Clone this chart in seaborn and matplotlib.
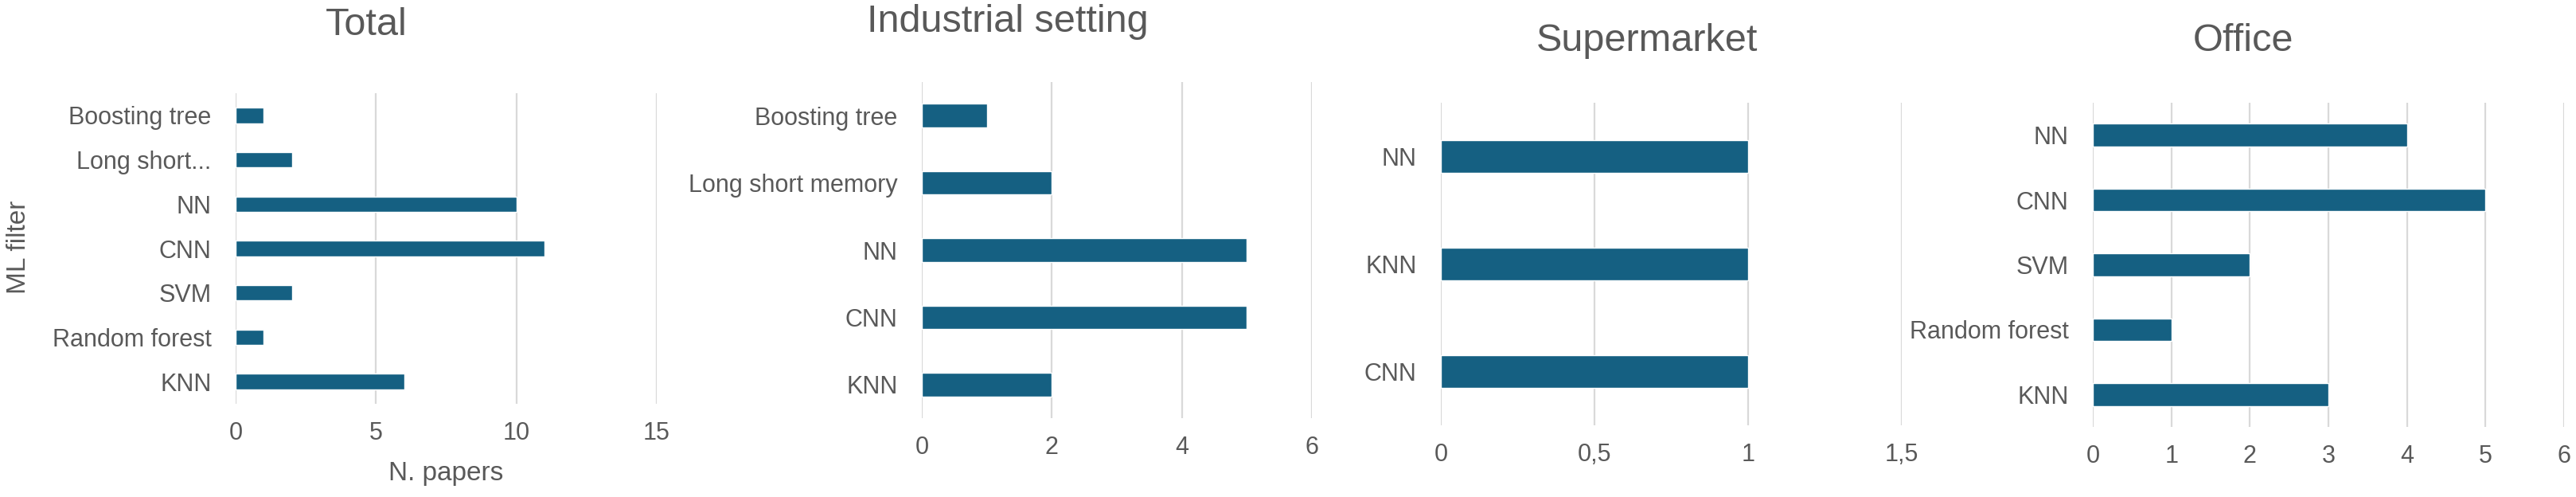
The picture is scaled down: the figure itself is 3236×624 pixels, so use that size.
import matplotlib
matplotlib.use("Agg")
import matplotlib.pyplot as plt
import seaborn as sns

# data
total_cats = ["Boosting tree", "Long short...", "NN", "CNN", "SVM", "Random forest", "KNN"]
total_vals = [1, 2, 10, 11, 2, 1, 6]

ind_cats = ["Boosting tree", "Long short memory", "NN", "CNN", "KNN"]
ind_vals = [1, 2, 5, 5, 2]

super_cats = ["NN", "KNN", "CNN"]
super_vals = [1, 1, 1]

office_cats = ["NN", "CNN", "SVM", "Random forest", "KNN"]
office_vals = [4, 5, 2, 1, 3]

total_ticks = [0, 5, 10, 15]
ind_ticks = [0, 2, 4, 6]
super_ticks = [0, 0.5, 1, 1.5]
super_tick_labels = ["0", "0,5", "1", "1,5"]
office_ticks = [0, 1, 2, 3, 4, 5, 6]

sns.set_style("white")
plt.rcParams["font.family"] = ["Liberation Sans", "DejaVu Sans"]

BAR = "#156082"
TXT = "#595959"
GRID = "#D9D9D9"
W, H = 3237, 624

fig = plt.figure(figsize=(W / 100, H / 100), dpi=100)


def make_ax(left, right, top, bottom):
    return fig.add_axes([left / W, 1 - bottom / H, (right - left) / W, (bottom - top) / H])


def panel(ax, cats, vals, ticks, bar_h, tick_labels=None):
    sns.barplot(x=vals, y=cats, orient="h", color=BAR, saturation=1, width=bar_h, ax=ax)
    ax.set_xlim(ticks[0], ticks[-1])
    ax.set_ylim(len(cats) - 0.5, -0.5)
    ax.set_xticks(ticks)
    if tick_labels is not None:
        ax.set_xticklabels(tick_labels)
    ax.grid(axis="x", color=GRID, linewidth=1.6)
    ax.grid(axis="y", visible=False)
    ax.set_axisbelow(True)
    for s in ax.spines.values():
        s.set_visible(False)
    ax.tick_params(axis="x", length=0, pad=16, labelsize=22, labelcolor=TXT)
    ax.tick_params(axis="y", length=0, pad=22, labelsize=22, labelcolor=TXT)
    ax.set_xlabel("")
    ax.set_ylabel("")


ax1 = make_ax(296, 825, 117, 507)
panel(ax1, total_cats, total_vals, total_ticks, 0.35)
ax1.set_xlabel("N. papers", fontsize=24, color=TXT, labelpad=14)
fig.text(24 / W, 1 - 310 / H, "ML filter", rotation=90, fontsize=24, color=TXT,
         ha="center", va="center")

ax2 = make_ax(1158, 1648, 103, 525)
panel(ax2, ind_cats, ind_vals, ind_ticks, 0.35)

ax3 = make_ax(1810, 2389, 129, 534)
panel(ax3, super_cats, super_vals, super_ticks, 0.31, super_tick_labels)

ax4 = make_ax(2629, 3221, 129, 536)
panel(ax4, office_cats, office_vals, office_ticks, 0.35)

# chart titles, centred over each chart area
for x, y, t in [(460, 32, "Total"), (1266, 28, "Industrial setting"),
                (2069, 52, "Supermarket"), (2818, 52, "Office")]:
    fig.text(x / W, 1 - y / H, t, fontsize=35, color=TXT, ha="center", va="center")

fig.savefig("out.png", dpi=100, facecolor="white")
